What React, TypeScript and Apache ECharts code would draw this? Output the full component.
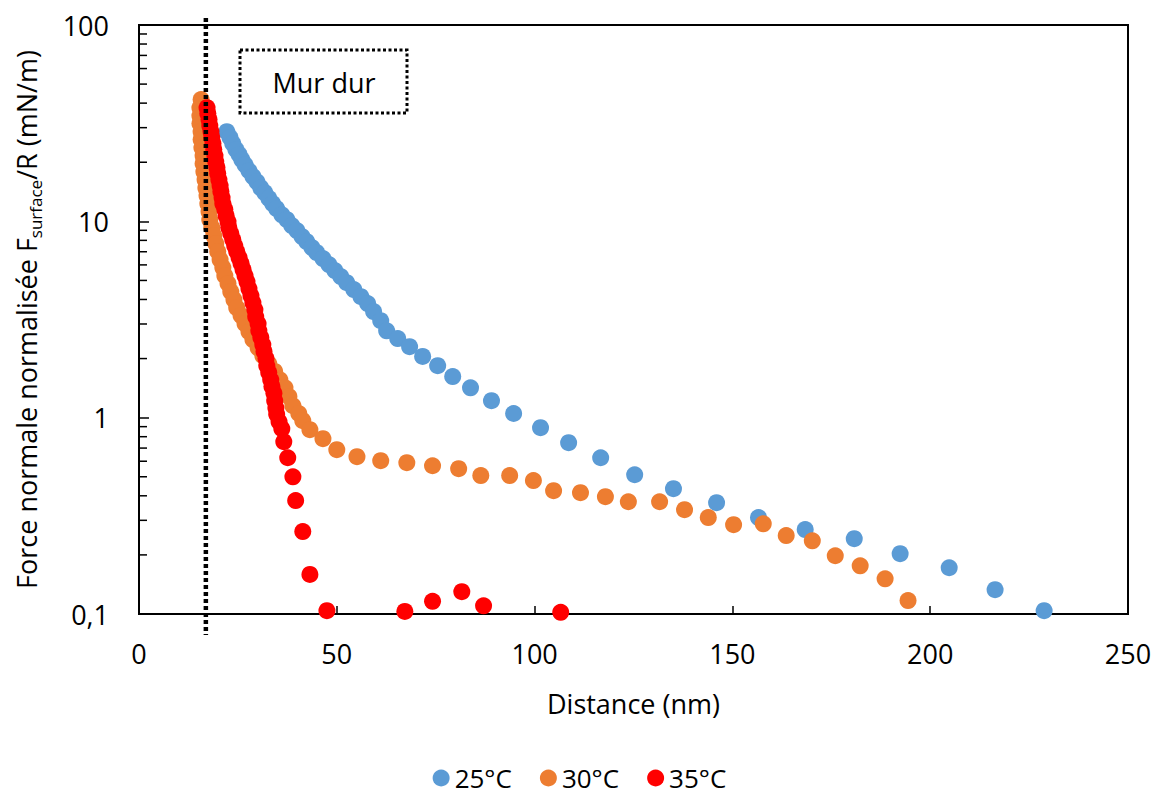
import React, { useEffect, useRef } from "react";
import * as echarts from "echarts";

const FONT = '"Open Sans", sans-serif';

// 25°C
const distance25 = [22.2, 23.0, 23.7, 24.5, 25.3, 26.0, 26.8, 27.8, 28.8, 29.8, 30.8, 31.8, 32.8, 33.8, 34.8, 36.1, 37.4, 38.6, 39.9, 41.2, 42.4, 43.7, 44.9, 46.5, 48.0, 49.5, 51.0, 52.5, 54.3, 56.1, 57.8, 59.3, 61.1, 62.6, 65.4, 68.4, 71.7, 75.5, 79.3, 83.8, 89.1, 94.7, 101.5, 108.6, 116.7, 125.3, 135.1, 146.0, 156.6, 168.4, 180.8, 192.4, 204.8, 216.4, 228.8];
const force25 = [28.6, 26.7, 24.9, 23.2, 21.9, 20.6, 19.4, 18.1, 16.9, 15.9, 14.8, 14.0, 13.1, 12.3, 11.6, 10.8, 10.2, 9.51, 8.97, 8.36, 7.88, 7.35, 6.93, 6.46, 6.02, 5.61, 5.23, 4.87, 4.49, 4.13, 3.81, 3.47, 3.12, 2.77, 2.53, 2.30, 2.05, 1.84, 1.62, 1.42, 1.22, 1.05, 0.889, 0.746, 0.625, 0.512, 0.435, 0.369, 0.310, 0.269, 0.242, 0.203, 0.172, 0.133, 0.104];

// 30°C
const distance30 = [15.7, 15.4, 15.4, 15.4, 15.7, 15.7, 15.9, 16.2, 16.2, 16.4, 16.7, 16.9, 17.2, 17.4, 17.7, 17.9, 18.4, 18.9, 19.4, 19.9, 20.5, 21.2, 21.7, 22.5, 23.2, 24.0, 24.7, 25.8, 26.8, 27.8, 28.8, 30.1, 31.3, 32.8, 34.3, 35.6, 36.9, 37.9, 38.9, 40.4, 41.4, 43.2, 46.5, 50.0, 55.1, 61.1, 67.7, 74.2, 80.8, 86.4, 93.7, 99.7, 104.8, 111.6, 117.9, 123.7, 131.6, 137.9, 143.9, 150.3, 157.8, 163.6, 170.2, 176.0, 182.3, 188.6, 194.4];
const force30 = [41.7, 37.9, 34.5, 31.5, 28.6, 26.1, 23.7, 21.6, 19.7, 17.9, 16.3, 14.8, 13.5, 12.3, 11.2, 10.2, 9.29, 8.45, 7.70, 7.01, 6.38, 5.81, 5.29, 4.82, 4.38, 3.99, 3.63, 3.31, 3.01, 2.74, 2.50, 2.27, 2.07, 1.88, 1.72, 1.56, 1.42, 1.28, 1.15, 1.05, 0.965, 0.869, 0.782, 0.687, 0.633, 0.604, 0.590, 0.569, 0.550, 0.507, 0.507, 0.478, 0.425, 0.415, 0.396, 0.373, 0.373, 0.340, 0.310, 0.285, 0.288, 0.251, 0.236, 0.198, 0.176, 0.151, 0.117];

// 35°C
const distance35 = [17.2, 17.4, 17.7, 17.9, 18.2, 18.4, 18.7, 18.9, 19.2, 19.4, 19.7, 19.9, 20.2, 20.5, 20.7, 21.0, 21.2, 21.7, 22.0, 22.5, 22.7, 23.2, 23.7, 24.2, 24.7, 25.3, 25.8, 26.3, 26.8, 27.3, 27.8, 28.3, 28.8, 29.3, 29.5, 30.1, 30.3, 30.8, 31.3, 31.6, 32.1, 32.3, 32.8, 33.3, 33.6, 34.1, 34.3, 34.6, 34.8, 35.4, 36.1, 36.6, 37.6, 38.9, 39.6, 41.4, 43.2, 47.5, 67.2, 74.2, 81.6, 87.1, 106.6];
const force35 = [37.9, 35.4, 33.0, 30.7, 28.6, 26.7, 24.9, 23.2, 21.6, 20.1, 18.8, 17.5, 16.3, 15.2, 14.2, 13.2, 12.3, 11.5, 10.7, 9.96, 9.29, 8.66, 8.07, 7.52, 7.01, 6.53, 6.09, 5.68, 5.29, 4.93, 4.54, 4.18, 3.85, 3.55, 3.27, 3.01, 2.77, 2.56, 2.35, 2.17, 2.00, 1.84, 1.70, 1.56, 1.44, 1.33, 1.22, 1.12, 1.04, 0.954, 0.879, 0.755, 0.625, 0.500, 0.378, 0.263, 0.159, 0.104, 0.103, 0.116, 0.130, 0.110, 0.102];

const seriesNames = ["25°C", "30°C", "35°C"];
const seriesColors = ["#5B9BD5", "#ED7D31", "#FF0000"];

const xMin = 0;
const xMax = 250;
const xInterval = 50;
const yMin = 0.1;
const yMax = 100;
const minorTickValues = [0.2, 0.3, 0.4, 0.5, 0.6, 0.7, 0.8, 0.9, 2, 3, 4, 5, 6, 7, 8, 9, 20, 30, 40, 50, 60, 70, 80, 90];
const hardWallX = 16.9;
const annotationText = "Mur dur";

const zip = (a: number[], b: number[]) => a.map((v, i) => [v, b[i]]);

export default function App() {
  const ref = useRef<HTMLDivElement>(null);
  useEffect(() => {
    const chart = echarts.init(ref.current!, null, { renderer: "svg" });
    const scatter = (i: number, x: number[], y: number[]) => ({
      name: seriesNames[i],
      type: "scatter",
      data: zip(x, y),
      symbol: "circle",
      symbolSize: 17,
      itemStyle: { color: seriesColors[i], opacity: 1 },
      z: 2 + i,
    });
    chart.setOption({
      animation: false,
      backgroundColor: "#fff",
      textStyle: { fontFamily: FONT },
      grid: {
        left: 138,
        right: 31,
        top: 25,
        bottom: 181,
        show: true,
        borderColor: "#000",
        borderWidth: 2,
        backgroundColor: "transparent",
      },
      legend: {
        data: seriesNames.map((n) => ({ name: n, icon: "circle" })),
        left: "center",
        top: 765,
        padding: 0,
        itemWidth: 17,
        itemHeight: 17,
        itemGap: 28,
        textStyle: { fontSize: 26, color: "#000", fontFamily: FONT, lineHeight: 26 },
      },
      xAxis: {
        type: "value",
        min: xMin,
        max: xMax,
        interval: xInterval,
        name: "Distance (nm)",
        nameLocation: "middle",
        nameGap: 76,
        nameTextStyle: { fontSize: 27, color: "#000", fontFamily: FONT },
        axisLine: { show: true, lineStyle: { color: "#000", width: 2 } },
        axisTick: { show: true, inside: true, length: 8, lineStyle: { color: "#000", width: 1.5 } },
        axisLabel: { fontSize: 27, color: "#000", fontFamily: FONT, margin: 26 },
        splitLine: { show: false },
      },
      yAxis: {
        type: "log",
        logBase: 10,
        min: yMin,
        max: yMax,
        name: "Force normale normalisée F{sub|surface}/R (mN/m)",
        nameLocation: "middle",
        nameGap: 95,
        nameTextStyle: {
          fontSize: 27,
          color: "#000",
          fontFamily: FONT,
          lineHeight: 36,
          rich: {
            sub: { fontSize: 17, color: "#000", fontFamily: FONT, verticalAlign: "bottom", lineHeight: 17 },
          },
        },
        axisLine: { show: true, lineStyle: { color: "#000", width: 2 } },
        axisTick: { show: true, inside: true, length: 10, lineStyle: { color: "#000", width: 1.5 } },
        axisLabel: {
          fontSize: 27,
          color: "#000",
          fontFamily: FONT,
          margin: 30,
          formatter: (v: number) => String(Number(v.toPrecision(6))).replace(".", ","),
        },
        splitLine: { show: false },
      },
      graphic: [
        {
          type: "rect",
          shape: { x: 240, y: 50, width: 167, height: 63 },
          style: { fill: "#fff", stroke: "#000", lineWidth: 3, lineDash: [3, 2.5] },
          z: 10,
        },
        {
          type: "text",
          x: 324,
          y: 82,
          style: {
            text: annotationText,
            fontSize: 27,
            fontFamily: FONT,
            fill: "#000",
            textAlign: "center",
            textVerticalAlign: "middle",
          },
          z: 11,
        },
      ],
      series: [
        scatter(0, distance25, force25),
        scatter(1, distance30, force30),
        scatter(2, distance35, force35),
        {
          type: "custom",
          name: "minorTicks",
          clip: false,
          silent: true,
          data: minorTickValues.map((v) => [xMin, v]),
          encode: { x: 0, y: 1 },
          renderItem: (params: any, api: any) => {
            const p = api.coord([api.value(0), api.value(1)]);
            return {
              type: "line",
              shape: { x1: p[0], y1: p[1], x2: p[0] + 8, y2: p[1] },
              style: { stroke: "#000", lineWidth: 1.5 },
            };
          },
          z: 5,
        },
        {
          type: "custom",
          name: "hardWall",
          clip: false,
          silent: true,
          data: [[hardWallX, 1]],
          encode: { x: 0, y: 1 },
          renderItem: (params: any, api: any) => {
            const top = api.coord([api.value(0), yMax]);
            const bot = api.coord([api.value(0), yMin]);
            return {
              type: "line",
              shape: { x1: top[0], y1: top[1] - 7, x2: bot[0], y2: bot[1] + 21 },
              style: { stroke: "#000", lineWidth: 4.5, lineDash: [4, 3] },
            };
          },
          z: 20,
        },
      ],
    });
    return () => chart.dispose();
  }, []);
  return <div ref={ref} style={{ position: "absolute", left: 0, top: 0, width: 1159, height: 795 }} />;
}
